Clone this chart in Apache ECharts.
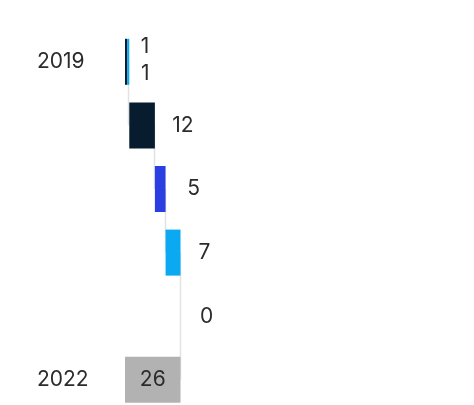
<!DOCTYPE html>
<html>
<head>
<meta charset="utf-8">
<script src="https://cdn.jsdelivr.net/npm/echarts@6/dist/echarts.min.js"></script>
<style>
  html, body { margin: 0; padding: 0; background: #ffffff; }
  #chart { width: 474px; height: 405px; }
</style>
</head>
<body>
<div id="chart"></div>
<script>
// Waterfall from the 2019 level to the 2022 level
const categories = ['2019', 'step1', 'step2', 'step3', 'step4', '2022'];
const yearLabels = ['2019', '', '', '', '', '2022'];

// increments per row (the 2019 level is split in two parts)
const navyValues  = [1, 12, '-', '-', '-', '-'];
const blueValues  = ['-', '-', 5, '-', '-', '-'];
const skyValues   = [1, '-', '-', 7, '-', '-'];
const zeroValues  = ['-', '-', '-', '-', 0, '-'];
const totalValues = ['-', '-', '-', '-', '-', 26];

const num = v => (v === '-' ? 0 : v);
const rowSum = i => num(navyValues[i]) + num(blueValues[i]) + num(skyValues[i]) + num(zeroValues[i]);

// invisible offsets: running total of the rows above (total row starts at 0)
const baseValues = [];
const runningEnd = [];
let acc = 0;
for (let i = 0; i < categories.length; i++) {
  const isTotal = totalValues[i] !== '-';
  baseValues.push(isTotal ? 0 : acc);
  if (!isTotal) acc += rowSum(i);
  runningEnd.push(isTotal ? totalValues[i] : acc);
}
const connectorData = [];
for (let i = 0; i < categories.length - 1; i++) connectorData.push([runningEnd[i], i]);

const FONT = 'Inter, "Liberation Sans", Arial, sans-serif';
const TEXT = '#2b2b2b';
const FONT_SIZE = 21;
const BAR_H = 46;

const sideLabel = (dx, dy) => ({
  show: true,
  position: ['100%', '50%'],
  align: 'center',
  verticalAlign: 'middle',
  offset: [dx, dy],
  color: TEXT,
  fontFamily: FONT,
  fontSize: FONT_SIZE
});

const chart = echarts.init(document.getElementById('chart'), null, { renderer: 'canvas' });
chart.setOption({
  animation: false,
  backgroundColor: '#ffffff',
  grid: {
    left: 125, top: 30, width: 213.5, height: 381.6,
    containLabel: false, outerBoundsMode: 'none'
  },
  xAxis: {
    type: 'value', min: 0, max: 100,
    show: false
  },
  yAxis: {
    type: 'category',
    inverse: true,
    data: categories,
    axisLine: { show: false },
    axisTick: { show: false },
    splitLine: { show: false },
    axisLabel: {
      align: 'left',
      margin: 88,
      color: TEXT,
      fontFamily: FONT,
      fontSize: FONT_SIZE,
      formatter: (v, i) => yearLabels[i]
    }
  },
  series: [
    {
      type: 'custom',
      name: 'connector',
      z: 1,
      silent: true,
      data: connectorData,
      renderItem: (params, api) => {
        const x = api.value(0), row = api.value(1);
        const a = api.coord([x, row]);
        const b = api.coord([x, row + 1]);
        return {
          type: 'line',
          shape: { x1: Math.round(a[0]) - 0.5, y1: a[1], x2: Math.round(a[0]) - 0.5, y2: b[1] },
          style: { stroke: '#e2e2e2', lineWidth: 1.5 }
        };
      }
    },
    {
      type: 'bar', name: 'base', stack: 'w', z: 2, barWidth: BAR_H,
      itemStyle: { color: 'transparent' },
      silent: true,
      data: baseValues
    },
    {
      type: 'bar', name: 'navy', stack: 'w', z: 3, barWidth: BAR_H,
      itemStyle: { color: '#071c2f' },
      data: navyValues.map((v, i) => i === 0
        ? { value: v, label: sideLabel(18, -15) }
        : { value: v, label: sideLabel(28, 0) })
    },
    {
      type: 'bar', name: 'blue', stack: 'w', z: 3, barWidth: BAR_H,
      itemStyle: { color: '#2a3fe2' },
      label: sideLabel(28, 0),
      data: blueValues
    },
    {
      type: 'bar', name: 'sky', stack: 'w', z: 3, barWidth: BAR_H,
      itemStyle: { color: '#0aa9f1' },
      data: skyValues.map((v, i) => i === 0
        ? { value: v, label: sideLabel(16, 12) }
        : { value: v, label: sideLabel(24, 0) })
    },
    {
      type: 'bar', name: 'zero', stack: 'w', z: 3, barWidth: BAR_H,
      itemStyle: { color: '#b2b2b2' },
      label: sideLabel(26, 0),
      data: zeroValues
    },
    {
      type: 'bar', name: 'total', stack: 'w', z: 3, barWidth: BAR_H,
      itemStyle: { color: '#b2b2b2' },
      label: {
        show: true, position: 'inside',
        color: TEXT, fontFamily: FONT, fontSize: FONT_SIZE
      },
      data: totalValues
    }
  ]
});
</script>
</body>
</html>
